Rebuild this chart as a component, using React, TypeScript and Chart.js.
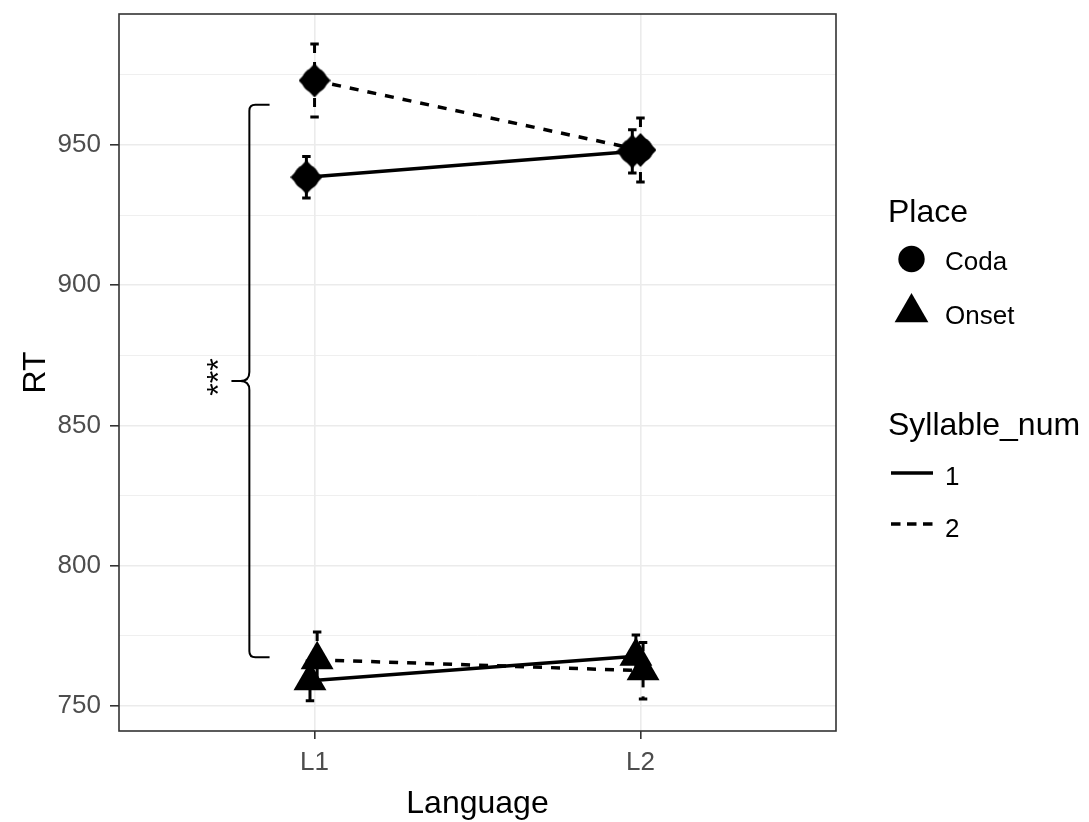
import React, { useEffect, useRef } from 'react';
import { Chart, registerables } from 'chart.js';

Chart.register(...registerables);

// ---------------- data ----------------
const categories = ['L1', 'L2'];
const codaSyl1 = [938.5, 947.7];
const codaSyl1Err = [7.4, 7.7];
const codaSyl2 = [973.0, 948.2];
const codaSyl2Err = [13.0, 11.4];
const onsetSyl1 = [758.9, 767.7];
const onsetSyl1Err = [7.1, 7.5];
const onsetSyl2 = [766.4, 762.5];
const onsetSyl2Err = [9.9, 10.1];
const seriesDodge = [-0.025, 0, -0.014, 0.008];
const yMajorTicks = [750, 800, 850, 900, 950];
const yMinorTicks = [775, 825, 875, 925, 975];
const placeLabels = ['Coda', 'Onset'];
const syllableLabels = ['1', '2'];
const bracketRange = [767.3, 964.3];
const bracketLabel = '***';

const FONT = '"Liberation Sans", Arial, Helvetica, sans-serif';

function makeCodaImage(): HTMLCanvasElement {
  const c = document.createElement('canvas');
  c.width = 32;
  c.height = 34;
  const g = c.getContext('2d')!;
  g.fillStyle = '#000';
  g.beginPath();
  g.moveTo(16, 0);
  g.lineTo(32, 17);
  g.lineTo(16, 34);
  g.lineTo(0, 17);
  g.closePath();
  g.fill();
  g.beginPath();
  g.arc(16, 17, 12.5, 0, Math.PI * 2);
  g.fill();
  return c;
}

export default function App() {
  const ref = useRef<HTMLCanvasElement | null>(null);

  useEffect(() => {
    document.body.style.margin = '0';
    const canvas = ref.current;
    if (!canvas) return;
    const codaImg = makeCodaImage();

    const series = [
      { label: 'Coda 1', vals: codaSyl1, err: codaSyl1Err, dodge: seriesDodge[0], style: codaImg as any, dashed: false },
      { label: 'Coda 2', vals: codaSyl2, err: codaSyl2Err, dodge: seriesDodge[1], style: codaImg as any, dashed: true },
      { label: 'Onset 1', vals: onsetSyl1, err: onsetSyl1Err, dodge: seriesDodge[2], style: 'triangle', dashed: false },
      { label: 'Onset 2', vals: onsetSyl2, err: onsetSyl2Err, dodge: seriesDodge[3], style: 'triangle', dashed: true },
    ];
    const DASH = [9, 9];

    const datasets = series.map((s) => ({
      label: s.label,
      data: s.vals.map((v, i) => ({ x: i + 1 + s.dodge, y: v })),
      borderColor: '#000',
      backgroundColor: '#000',
      borderWidth: 3.5,
      borderDash: s.dashed ? DASH : [],
      pointStyle: s.style,
      pointRadius: 19,
      pointHoverRadius: 19,
      pointBackgroundColor: '#000',
      pointBorderColor: '#000',
      pointBorderWidth: 0,
      tension: 0,
      fill: false,
    }));

    const errorBars = {
      id: 'errorBars',
      beforeDatasetsDraw(chart: any) {
        const { ctx, scales } = chart;
        const x = scales.x;
        const y = scales.y;
        ctx.save();
        ctx.strokeStyle = '#000';
        ctx.lineWidth = 3;
        series.forEach((s) => {
          s.vals.forEach((v: number, i: number) => {
            const cx = x.getPixelForValue(i + 1 + s.dodge);
            const hw = x.getPixelForValue(i + 1 + s.dodge + 0.013) - cx;
            const yt = y.getPixelForValue(v + s.err[i]);
            const yb = y.getPixelForValue(v - s.err[i]);
            ctx.setLineDash(s.dashed ? DASH : []);
            ctx.beginPath();
            ctx.moveTo(cx, yt);
            ctx.lineTo(cx, yb);
            ctx.stroke();
            ctx.setLineDash([]);
            ctx.beginPath();
            ctx.moveTo(cx - hw, yt);
            ctx.lineTo(cx + hw, yt);
            ctx.moveTo(cx - hw, yb);
            ctx.lineTo(cx + hw, yb);
            ctx.stroke();
          });
        });
        ctx.restore();
      },
    };

    const decorations = {
      id: 'decorations',
      afterDraw(chart: any) {
        const { ctx, chartArea, scales } = chart;
        const x = scales.x;
        const y = scales.y;
        ctx.save();
        // panel border
        ctx.strokeStyle = '#333333';
        ctx.lineWidth = 1.6;
        ctx.setLineDash([]);
        ctx.strokeRect(chartArea.left, chartArea.top, chartArea.right - chartArea.left, chartArea.bottom - chartArea.top);

        // bracket
        const xv = x.getPixelForValue(0.80);
        const xh = x.getPixelForValue(0.862);
        const xt = x.getPixelForValue(0.745);
        const yT = y.getPixelForValue(bracketRange[1]);
        const yB = y.getPixelForValue(bracketRange[0]);
        const yM = (yT + yB) / 2;
        ctx.strokeStyle = '#000';
        ctx.lineWidth = 2;
        ctx.beginPath();
        ctx.moveTo(xh, yT);
        ctx.lineTo(xv + 6, yT);
        ctx.quadraticCurveTo(xv, yT, xv, yT + 6);
        ctx.lineTo(xv, yM - 9);
        ctx.quadraticCurveTo(xv, yM, xv - 9, yM);
        ctx.lineTo(xt, yM);
        ctx.moveTo(xv - 9, yM);
        ctx.quadraticCurveTo(xv, yM, xv, yM + 9);
        ctx.lineTo(xv, yB - 6);
        ctx.quadraticCurveTo(xv, yB, xv + 6, yB);
        ctx.lineTo(xh, yB);
        ctx.stroke();

        // stars
        ctx.fillStyle = '#000';
        ctx.font = `32px ${FONT}`;
        ctx.textAlign = 'center';
        ctx.textBaseline = 'alphabetic';
        const m = ctx.measureText(bracketLabel);
        const off = (m.actualBoundingBoxAscent - m.actualBoundingBoxDescent) / 2;
        ctx.save();
        ctx.translate(x.getPixelForValue(0.687), yM - 4);
        ctx.rotate(-Math.PI / 2);
        ctx.fillText(bracketLabel, 0, off);
        ctx.restore();

        // axis titles
        ctx.fillStyle = '#000';
        ctx.font = `32px ${FONT}`;
        ctx.textAlign = 'center';
        ctx.textBaseline = 'alphabetic';
        ctx.fillText('Language', (chartArea.left + chartArea.right) / 2, 813);
        ctx.save();
        ctx.translate(45, (chartArea.top + chartArea.bottom) / 2);
        ctx.rotate(-Math.PI / 2);
        ctx.fillText('RT', 0, 0);
        ctx.restore();

        // legend
        ctx.textAlign = 'left';
        ctx.textBaseline = 'alphabetic';
        ctx.font = `32px ${FONT}`;
        ctx.fillText('Place', 888, 222);
        ctx.fillText('Syllable_num', 888, 435);
        ctx.font = `26px ${FONT}`;
        // Coda key
        ctx.beginPath();
        ctx.arc(911.5, 259, 13.2, 0, Math.PI * 2);
        ctx.fill();
        ctx.fillText(placeLabels[0], 945, 270);
        // Onset key
        const r = 19.5;
        const tcx = 911.5;
        const tcy = 312.5;
        ctx.beginPath();
        ctx.moveTo(tcx, tcy - r);
        ctx.lineTo(tcx + r * Math.sin((2 * Math.PI) / 3), tcy - r * Math.cos((2 * Math.PI) / 3));
        ctx.lineTo(tcx + r * Math.sin((4 * Math.PI) / 3), tcy - r * Math.cos((4 * Math.PI) / 3));
        ctx.closePath();
        ctx.fill();
        ctx.fillText(placeLabels[1], 945, 324);
        // syllable keys
        ctx.strokeStyle = '#000';
        ctx.lineWidth = 3.5;
        ctx.beginPath();
        ctx.moveTo(891, 473);
        ctx.lineTo(933, 473);
        ctx.stroke();
        ctx.fillText(syllableLabels[0], 945, 485);
        ctx.setLineDash([9.5, 6.5]);
        ctx.beginPath();
        ctx.moveTo(891, 524);
        ctx.lineTo(933, 524);
        ctx.stroke();
        ctx.setLineDash([]);
        ctx.fillText(syllableLabels[1], 945, 537);
        ctx.restore();
      },
    };

    const allY = [...yMajorTicks, ...yMinorTicks].sort((a, b) => a - b);

    const chart = new Chart(canvas, {
      type: 'line',
      data: { datasets: datasets as any },
      options: {
        animation: false,
        responsive: false,
        maintainAspectRatio: false,
        devicePixelRatio: 1,
        layout: { autoPadding: false, padding: { top: 14, right: 253, left: 0, bottom: 0 } },
        plugins: { legend: { display: false }, tooltip: { enabled: false } },
        events: [],
        scales: {
          x: {
            type: 'linear',
            min: 0.4,
            max: 2.6,
            afterBuildTicks: (scale: any) => {
              scale.ticks = categories.map((_, i) => ({ value: i + 1 }));
            },
            afterFit: (scale: any) => {
              scale.height = 91;
              scale.paddingLeft = 0;
              scale.paddingRight = 0;
            },
            ticks: {
              callback: (v: any) => categories[Math.round(Number(v)) - 1] ?? '',
              color: '#4d4d4d',
              font: { family: FONT, size: 26 },
              padding: 8,
              maxRotation: 0,
              autoSkip: false,
            },
            grid: {
              color: '#ebebeb',
              lineWidth: 1.6,
              tickColor: '#333333',
              tickLength: 8,
              tickWidth: 1.6,
            },
            border: { display: false },
          },
          y: {
            type: 'linear',
            min: 741,
            max: 996.7,
            afterBuildTicks: (scale: any) => {
              scale.ticks = allY.map((v) => ({ value: v }));
            },
            afterFit: (scale: any) => {
              scale.width = 119;
              scale.paddingTop = 0;
              scale.paddingBottom = 0;
            },
            ticks: {
              callback: (v: any) => (yMajorTicks.includes(Number(v)) ? String(v) : ''),
              color: '#4d4d4d',
              font: { family: FONT, size: 26 },
              padding: 9,
              autoSkip: false,
            },
            grid: {
              color: '#ebebeb',
              lineWidth: (c: any) => (yMajorTicks.includes(c.tick?.value) ? 1.6 : 0.8),
              tickColor: (c: any) => (yMajorTicks.includes(c.tick?.value) ? '#333333' : 'rgba(0,0,0,0)'),
              tickLength: 9,
              tickWidth: 1.6,
            },
            border: { display: false },
          },
        },
      },
      plugins: [errorBars, decorations],
    } as any);

    return () => {
      chart.destroy();
    };
  }, []);

  return (
    <div style={{ width: 1089, height: 822, position: 'relative', background: '#fff' }}>
      <canvas ref={ref} width={1089} height={822} style={{ display: 'block' }} />
    </div>
  );
}
